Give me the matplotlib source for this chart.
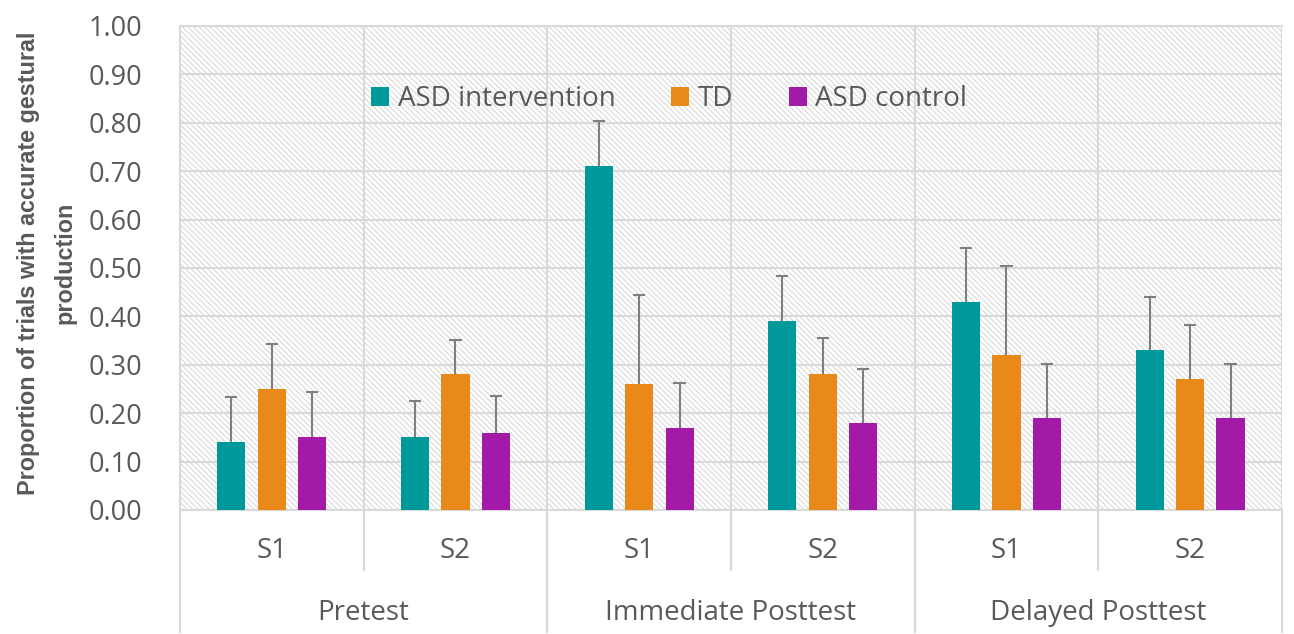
import numpy as np
import matplotlib.pyplot as plt
from matplotlib.patches import Rectangle

# Data
sessions = ["S1", "S2", "S1", "S2", "S1", "S2"]
phases = ["Pretest", "Immediate Posttest", "Delayed Posttest"]
series_names = ["ASD intervention", "TD", "ASD control"]

asd_int = [0.14, 0.15, 0.71, 0.39, 0.43, 0.33]
td = [0.25, 0.28, 0.26, 0.28, 0.32, 0.27]
asd_ctrl = [0.15, 0.16, 0.17, 0.18, 0.19, 0.19]

asd_int_err = [0.093, 0.075, 0.094, 0.093, 0.111, 0.111]
td_err = [0.093, 0.072, 0.184, 0.075, 0.184, 0.112]
asd_ctrl_err = [0.094, 0.076, 0.092, 0.111, 0.112, 0.112]

colors = ["#009999", "#E8891A", "#A31AA8"]
grid_col = "#D9D9D9"
text_col = "#595959"
err_col = "#7F7F7F"

plt.rcParams['font.family'] = ['Open Sans', 'DejaVu Sans']
plt.rcParams['hatch.linewidth'] = 0.7
plt.rcParams['hatch.color'] = '#D4D4D4'

fig = plt.figure(figsize=(12.94, 6.34), dpi=100)
ax = fig.add_axes([0.1391, 0.1956, 0.8516, 0.7634])

x = np.arange(len(sessions))
ax.set_xlim(-0.5, 5.5)
ax.set_ylim(0, 1.0)

# hatched plot area background
ax.add_patch(Rectangle((0, 0), 1, 1, transform=ax.transAxes, facecolor='white',
                       edgecolor='#D4D4D4', hatch='\\' * 6, linewidth=0, zorder=0))

ax.set_yticks(np.arange(0, 1.01, 0.1))
ax.set_yticklabels([f"{v:.2f}" for v in np.arange(0, 1.01, 0.1)])
ax.yaxis.grid(True, color=grid_col, linewidth=1.5, zorder=1)
for b in np.arange(-0.5, 5.6, 1):
    ax.axvline(b, color=grid_col, linewidth=1.5, zorder=1)
ax.set_axisbelow(True)

w = 0.153
step = 0.22
cap = 0.033
vals = [asd_int, td, asd_ctrl]
errs = [asd_int_err, td_err, asd_ctrl_err]
for i, (v, e, c, n) in enumerate(zip(vals, errs, colors, series_names)):
    pos = x + (i - 1) * step
    ax.bar(pos, v, width=w, color=c, label=n, zorder=3)
    top = np.array(v) + np.array(e)
    ax.vlines(pos, v, top, color=err_col, linewidth=1.5, zorder=4)
    ax.hlines(top, pos - cap, pos + cap, color=err_col, linewidth=1.5, zorder=4)

for s in ['top', 'right', 'left', 'bottom']:
    ax.spines[s].set_color(grid_col)
    ax.spines[s].set_linewidth(1.5)
ax.spines['right'].set_visible(False)

ax.tick_params(axis='y', length=0, labelsize=19.5, labelcolor=text_col, pad=27)
ax.tick_params(axis='x', length=0)
ax.set_xticks(x)
ax.set_xticklabels([])

# two-level category axis
for xi, s in zip(x, sessions):
    ax.text(xi, -0.085, s, transform=ax.get_xaxis_transform(), ha='center', va='center',
            fontsize=20, color=text_col)
for j, p in enumerate(phases):
    ax.text(2 * j + 0.5, -0.213, p, transform=ax.get_xaxis_transform(), ha='center',
            va='center', fontsize=20, color=text_col)
for b in [0.5, 2.5, 4.5]:
    ax.plot([b, b], [0, -0.124], transform=ax.get_xaxis_transform(), color=grid_col,
            linewidth=1.5, clip_on=False)
for b in [-0.5, 1.5, 3.5, 5.5]:
    ax.plot([b, b], [0, -0.253], transform=ax.get_xaxis_transform(), color=grid_col,
            linewidth=1.5, clip_on=False)

ax.set_ylabel("Proportion of trials with accurate gestural\nproduction", fontsize=16.8,
              fontweight='bold', color=text_col, linespacing=1.75,
              family=['Liberation Sans', 'DejaVu Sans'])
ax.yaxis.set_label_coords(-0.0935, 0.51)

leg = ax.legend(loc='center left', bbox_to_anchor=(0.151, 0.849), ncol=3, frameon=False,
                fontsize=20, handlelength=0.65, handleheight=0.65, columnspacing=2.0,
                handletextpad=0.3, borderpad=0.4)
for t in leg.get_texts():
    t.set_color(text_col)

fig.savefig("out.png", dpi=100)
